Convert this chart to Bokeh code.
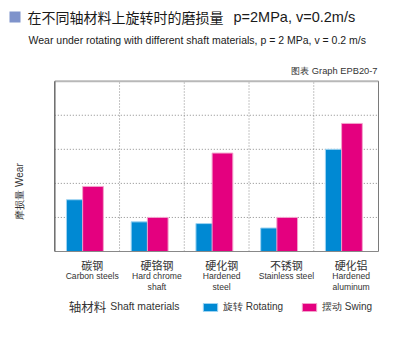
import math
from bokeh.plotting import figure
from bokeh.models import (Range1d, Label, LabelSet, Legend, LegendItem,
                          ColumnDataSource, BoxAnnotation)
from bokeh.transform import dodge
from bokeh.core.properties import value
from bokeh.embed import file_html
from bokeh.resources import INLINE

# ---- data ----
materials_cn = ["碳钢", "硬铬钢", "硬化钢", "不锈钢", "硬化铝"]
materials_en_1 = ["Carbon steels", "Hard chrome", "Hardened", "Stainless steel", "Hardened"]
materials_en_2 = ["", "shaft", "steel", "", "aluminum"]
rotating = [1.52, 0.87, 0.82, 0.69, 3.0]
swing = [1.91, 1.0, 2.89, 1.0, 3.76]
wear_grid = [1, 2, 3, 4]
wear_max = 5

title_cn = "在不同轴材料上旋转时的磨损量"
title_en = "p=2MPa, v=0.2m/s"
subtitle_text = "Wear under rotating with different shaft materials, p = 2 MPa, v = 0.2 m/s"
graph_id = "图表 Graph EPB20-7"
y_label = "摩损量 Wear"
x_label_cn = "轴材料"
x_label_en = "Shaft materials"
series_labels = ["旋转 Rotating", "摆动 Swing"]

BLUE = "#0089D3"
PINK = "#E4007F"
SANS = "Liberation Sans"
CJK = "Noto Sans CJK SC"
W, H = 392, 352
# plot box in canvas pixels
BOX_L, BOX_R, BOX_T, BOX_B = 54.3, 378.0, 80.7, 251.0

n = len(materials_cn)
pos = [i + 0.5 for i in range(n)]
source = ColumnDataSource(dict(pos=pos, material=materials_cn, en1=materials_en_1, en2=materials_en_2,
                               rotating=rotating, swing=swing))

# ranges chosen so that categories 0..n and wear 0..wear_max fill the plot box
xs = (BOX_R - BOX_L) / n
ys = (BOX_B - BOX_T) / wear_max
x_range = Range1d(-BOX_L / xs, (W - BOX_L) / xs)
y_range = Range1d(-(H - BOX_B) / ys, (BOX_B) / ys)

p = figure(width=W, height=H, x_range=x_range, y_range=y_range,
           output_backend="svg", toolbar_location=None,
           min_border=0, x_axis_location=None, y_axis_location=None)
p.outline_line_color = None
p.grid.visible = False
p.background_fill_color = "white"
p.border_fill_color = "white"

# dotted grid
p.segment(x0=[0] * len(wear_grid), x1=[n] * len(wear_grid), y0=wear_grid, y1=wear_grid,
          line_color="#8a8a8a", line_dash="1 2", line_width=1)
vx = list(range(1, n))
p.segment(x0=vx, x1=vx, y0=[0] * len(vx), y1=[wear_max] * len(vx),
          line_color="#8a8a8a", line_dash="1 2", line_width=1)

# bars
r1 = p.vbar(x=dodge("pos", -0.16), top="rotating", width=0.32,
            source=source, fill_color=BLUE, line_color="#9fd4f2", line_width=1)
r2 = p.vbar(x=dodge("pos", 0.09), top="swing", width=0.32,
            source=source, fill_color=PINK, line_color="#f3a3cc", line_width=1)

# plot box borders
p.segment(x0=[0], x1=[n], y0=[wear_max], y1=[wear_max], line_color="#b8b8b8", line_width=2)
p.segment(x0=[0], x1=[n], y0=[0], y1=[0], line_color="#888888", line_width=1)
p.segment(x0=[n], x1=[n], y0=[0], y1=[wear_max], line_color="#7a7a7a", line_width=1)
p.segment(x0=[0], x1=[0], y0=[0], y1=[wear_max], line_color="#6a6a6a", line_width=1.5)

# category labels
p.add_layout(LabelSet(x="pos", y=H - 264, y_units="screen", text="material", source=source,
                      x_offset=5, text_align="center", text_baseline="middle",
                      text_font=value(CJK), text_font_size="11px", text_color="#333333"))
p.add_layout(LabelSet(x="pos", y=H - 275.5, y_units="screen", text="en1", source=source,
                      x_offset=5, text_align="center", text_baseline="middle",
                      text_font=value(SANS), text_font_size="8.6px", text_color="#333333"))
p.add_layout(LabelSet(x="pos", y=H - 286.5, y_units="screen", text="en2", source=source,
                      x_offset=5, text_align="center", text_baseline="middle",
                      text_font=value(SANS), text_font_size="8.6px", text_color="#333333"))

# texts
p.add_layout(BoxAnnotation(left=9, right=20, top=H - 11, bottom=H - 22,
                           left_units="screen", right_units="screen", top_units="screen", bottom_units="screen",
                           fill_color="#7f93cb", fill_alpha=1, line_color=None))
p.add_layout(Label(x=27, y=H - 16.5, x_units="screen", y_units="screen", text=title_cn,
                   text_align="left", text_baseline="middle", text_font=CJK,
                   text_font_size="14px", text_color="#1a1a1a"))
p.add_layout(Label(x=233, y=H - 16.5, x_units="screen", y_units="screen", text=title_en,
                   text_align="left", text_baseline="middle", text_font=SANS,
                   text_font_size="14.5px", text_color="#1a1a1a"))
p.add_layout(Label(x=28, y=H - 39, x_units="screen", y_units="screen", text=subtitle_text,
                   text_align="left", text_baseline="middle", text_font=SANS,
                   text_font_size="10.5px", text_color="#1a1a1a"))
p.add_layout(Label(x=377, y=H - 70, x_units="screen", y_units="screen", text=graph_id,
                   text_align="right", text_baseline="middle", text_font=SANS,
                   text_font_size="9.3px", text_color="#333333"))
p.add_layout(Label(x=18.7, y=H - 191, x_units="screen", y_units="screen", text=y_label,
                   angle=math.pi / 2, text_align="center", text_baseline="middle", text_font=SANS,
                   text_font_size="10px", text_color="#333333"))
p.add_layout(Label(x=68.3, y=H - 306, x_units="screen", y_units="screen", text=x_label_cn,
                   text_align="left", text_baseline="middle", text_font=CJK,
                   text_font_size="12.5px", text_color="#333333"))
p.add_layout(Label(x=109.7, y=H - 306, x_units="screen", y_units="screen", text=x_label_en,
                   text_align="left", text_baseline="middle", text_font=SANS,
                   text_font_size="10.4px", text_color="#333333"))

legend = Legend(items=[LegendItem(label=series_labels[0], renderers=[r1]),
                       LegendItem(label=series_labels[1], renderers=[r2])],
                orientation="horizontal", location=(201, H - 313.8),
                glyph_width=18, glyph_height=10, label_height=10, label_standoff=4, spacing=17,
                padding=0, margin=0, border_line_color=None, background_fill_alpha=0,
                label_text_font=SANS, label_text_font_size="10px", label_text_color="#333333")
p.add_layout(legend, "center")

open("out.html", "w").write(file_html(p, INLINE))
